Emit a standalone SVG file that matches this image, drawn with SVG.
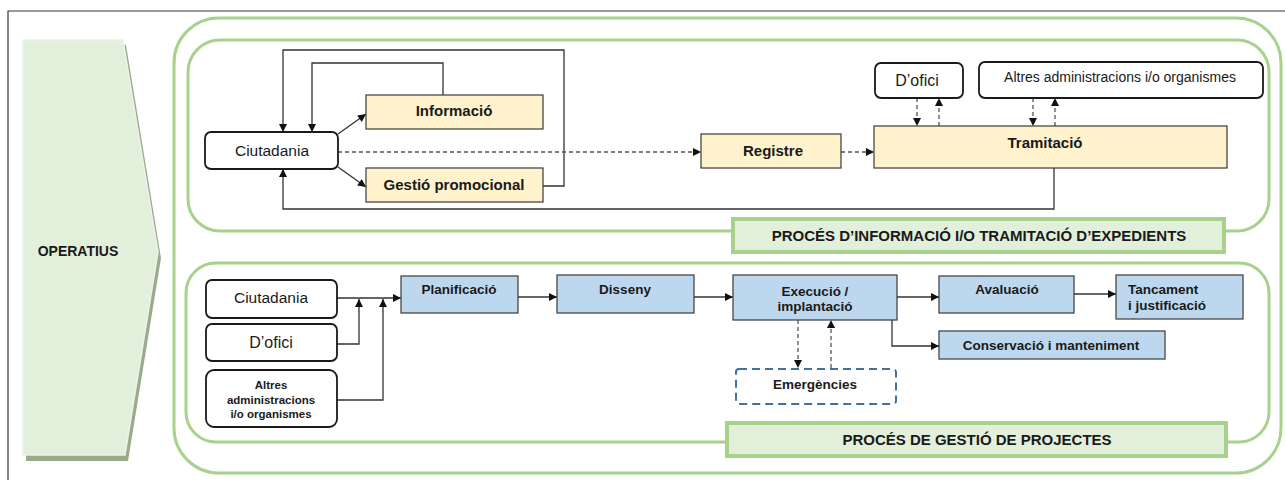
<svg xmlns="http://www.w3.org/2000/svg" width="1285" height="480" viewBox="0 0 1285 480">
  <style>
    .frame { fill: none; stroke: #333333; stroke-width: 1.2; }
    .group { fill: none; stroke: #a9d18e; stroke-width: 3; }
    .label { fill: #e2efda; stroke: #a9d18e; stroke-width: 4; }
    .actor { fill: #ffffff; stroke: #1a1a1a; stroke-width: 1.8; }
    .info { fill: #fff2cc; stroke: #3a3a3a; stroke-width: 1.2; }
    .proj { fill: #bdd7ee; stroke: #3a3a3a; stroke-width: 1.2; }
    .emerg { fill: #ffffff; stroke: #41719c; stroke-width: 2; stroke-dasharray: 8 5; }
    .t { font-family: "Liberation Sans", Arial, sans-serif; fill: #1a1a1a; text-anchor: middle; }
    .t.s { text-anchor: start; }
    .b { font-weight: bold; }
    .link { fill: none; stroke: #333333; stroke-width: 1.3; }
    .dash { fill: none; stroke: #555555; stroke-width: 1.3; stroke-dasharray: 4 3; }
  </style>
  <defs>
    <marker id="arrow" viewBox="0 0 10 10" refX="10" refY="5" markerWidth="9" markerHeight="8" markerUnits="userSpaceOnUse" orient="auto">
      <path d="M0,0 L10,5 L0,10 z" fill="#111111"/>
    </marker>
  </defs>

  <!-- page frame -->
  <path class="frame" d="M8,480 V11 H1285"/>

  <!-- OPERATIUS banner -->
  <g id="operatius">
    <polygon points="26,45 126,45 161,258 128,461 26,461" fill="#98ab8a"/>
    <polygon points="23,40 123,40 158,252 125,455 23,455" fill="#e2efda" stroke="#eef1ec" stroke-width="1.5"/>
    <text class="t b" x="78" y="256" font-size="14">OPERATIUS</text>
  </g>

  <!-- process containers -->
  <g id="containers">
    <rect class="group" x="174" y="18" width="1107" height="455" rx="45"/>
    <rect class="group" x="188" y="40" width="1081" height="191" rx="32"/>
    <rect class="group" x="186" y="263" width="1083" height="179" rx="30"/>
  </g>

  <g id="label-tramitacio">
    <rect class="label" x="733" y="219" width="491" height="33"/>
    <text class="t b" x="979" y="241" font-size="15">PROCÉS D’INFORMACIÓ I/O TRAMITACIÓ D’EXPEDIENTS</text>
  </g>
  <g id="label-projectes">
    <rect class="label" x="727" y="423" width="499" height="33"/>
    <text class="t b" x="977" y="445" font-size="15">PROCÉS DE GESTIÓ DE PROJECTES</text>
  </g>

  <!-- connectors -->
  <g id="connectors">
    <!-- information / processing flow -->
    <line class="link" x1="338" y1="134" x2="366" y2="114" marker-end="url(#arrow)"/>
    <line class="link" x1="338" y1="167" x2="366" y2="187" marker-end="url(#arrow)"/>
    <polyline class="link" points="443,95 443,63 312,63 312,132" marker-end="url(#arrow)"/>
    <polyline class="link" points="543,186 564,186 564,50 283,50 283,132" marker-end="url(#arrow)"/>
    <polyline class="link" points="1054,168 1054,209 283,209 283,169" marker-end="url(#arrow)"/>
    <line class="dash" x1="338" y1="152" x2="701" y2="152" marker-end="url(#arrow)"/>
    <line class="dash" x1="841" y1="152" x2="874" y2="152" marker-end="url(#arrow)"/>
    <line class="dash" x1="917" y1="98" x2="917" y2="126" marker-end="url(#arrow)"/>
    <line class="dash" x1="939" y1="126" x2="939" y2="98" marker-end="url(#arrow)"/>
    <line class="dash" x1="1033" y1="98" x2="1033" y2="126" marker-end="url(#arrow)"/>
    <line class="dash" x1="1055" y1="126" x2="1055" y2="98" marker-end="url(#arrow)"/>

    <!-- project flow -->
    <line class="link" x1="337" y1="298" x2="401" y2="298" marker-end="url(#arrow)"/>
    <polyline class="link" points="337,344 359,344 359,299" marker-end="url(#arrow)"/>
    <polyline class="link" points="337,400 383,400 383,299" marker-end="url(#arrow)"/>
    <line class="link" x1="518" y1="297" x2="557" y2="297" marker-end="url(#arrow)"/>
    <line class="link" x1="694" y1="297" x2="733" y2="297" marker-end="url(#arrow)"/>
    <line class="link" x1="897" y1="297" x2="939" y2="297" marker-end="url(#arrow)"/>
    <line class="link" x1="1074" y1="294" x2="1116" y2="294" marker-end="url(#arrow)"/>
    <polyline class="link" points="892,320 892,346 939,346" marker-end="url(#arrow)"/>
    <line class="dash" x1="798" y1="320" x2="798" y2="368" marker-end="url(#arrow)"/>
    <line class="dash" x1="831" y1="368" x2="831" y2="320" marker-end="url(#arrow)"/>
  </g>

  <!-- information / processing nodes -->
  <g id="ciutadania-1">
    <rect class="actor" x="205" y="132" width="133" height="37" rx="6"/>
    <text class="t" x="272" y="156" font-size="15.5">Ciutadania</text>
  </g>
  <g id="informacio">
    <rect class="info" x="366" y="95" width="177" height="34"/>
    <text class="t b" x="454" y="116" font-size="15">Informació</text>
  </g>
  <g id="gestio-promocional">
    <rect class="info" x="366" y="168" width="177" height="34"/>
    <text class="t b" x="454" y="190" font-size="15">Gestió promocional</text>
  </g>
  <g id="registre">
    <rect class="info" x="701" y="134" width="140" height="34"/>
    <text class="t b" x="773" y="156" font-size="15">Registre</text>
  </g>
  <g id="tramitacio">
    <rect class="info" x="874" y="126" width="353" height="42"/>
    <text class="t b" x="1045" y="148" font-size="15">Tramitació</text>
  </g>
  <g id="dofici-1">
    <rect class="actor" x="875" y="63" width="88" height="35" rx="6"/>
    <text class="t" x="917" y="86" font-size="16">D’ofici</text>
  </g>
  <g id="altres-1">
    <rect class="actor" x="979" y="62" width="284" height="36" rx="6"/>
    <text class="t" x="1120" y="82" font-size="14">Altres administracions i/o organismes</text>
  </g>

  <!-- project nodes -->
  <g id="ciutadania-2">
    <rect class="actor" x="206" y="280" width="131" height="38" rx="6"/>
    <text class="t" x="271" y="303" font-size="15.5">Ciutadania</text>
  </g>
  <g id="dofici-2">
    <rect class="actor" x="206" y="324" width="131" height="37" rx="6"/>
    <text class="t" x="271" y="348" font-size="16">D’ofici</text>
  </g>
  <g id="altres-2">
    <rect class="actor" x="206" y="370" width="131" height="57" rx="8"/>
    <text class="t b" x="271" y="389" font-size="11.5">Altres</text>
    <text class="t b" x="271" y="404" font-size="11.5">administracions</text>
    <text class="t b" x="271" y="418" font-size="11.5">i/o organismes</text>
  </g>
  <g id="planificacio">
    <rect class="proj" x="401" y="276" width="117" height="37"/>
    <text class="t b" x="459" y="294" font-size="13.5">Planificació</text>
  </g>
  <g id="disseny">
    <rect class="proj" x="557" y="275" width="137" height="38"/>
    <text class="t b" x="625" y="294" font-size="13.5">Disseny</text>
  </g>
  <g id="execucio">
    <rect class="proj" x="733" y="275" width="164" height="45"/>
    <text class="t b" x="815" y="296" font-size="13.5">Execució /</text>
    <text class="t b" x="815" y="311" font-size="13.5">implantació</text>
  </g>
  <g id="avaluacio">
    <rect class="proj" x="939" y="276" width="135" height="37"/>
    <text class="t b" x="1007" y="294" font-size="13.5">Avaluació</text>
  </g>
  <g id="tancament">
    <rect class="proj" x="1116" y="275" width="127" height="44"/>
    <text class="t b s" x="1128" y="294" font-size="13.5">Tancament</text>
    <text class="t b s" x="1128" y="310" font-size="13.5">i justificació</text>
  </g>
  <g id="conservacio">
    <rect class="proj" x="939" y="331" width="226" height="28"/>
    <text class="t b" x="1051" y="350" font-size="13.5">Conservació i manteniment</text>
  </g>
  <g id="emergencies">
    <rect class="emerg" x="736" y="369" width="160" height="35" rx="3"/>
    <text class="t b" x="815" y="389" font-size="13.5">Emergències</text>
  </g>
</svg>
